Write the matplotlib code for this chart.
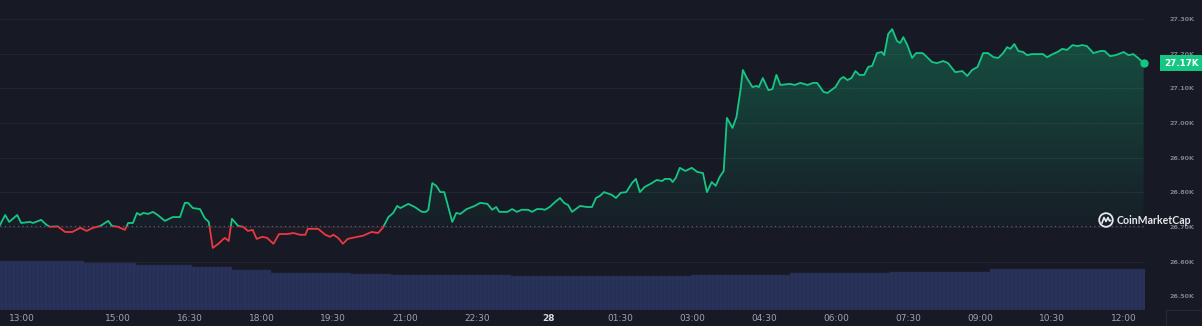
import numpy as np
import matplotlib
matplotlib.use("Agg")
import matplotlib.pyplot as plt
from matplotlib.path import Path
from matplotlib.patches import Rectangle, Circle
from matplotlib.lines import Line2D
import matplotlib.transforms as mtransforms

BG = "#171924"
GREEN = "#16c784"
RED = "#ea3943"

# minutes after 12:30 and price (USD)
minutes = [2, 9, 14, 24, 29, 40, 44, 54, 61, 65, 75, 84, 93, 103, 111, 119, 128, 138, 143, 150,
           159, 163, 169, 174, 178, 182, 188, 194, 200, 209, 219, 228, 234, 238, 244, 253,
           259, 264, 269, 276, 284, 289, 293, 301, 307, 313, 319, 324, 331, 337, 345, 352, 362,
           370, 378, 385, 388, 395, 401, 410, 416, 420, 426, 432, 438, 450, 457, 468, 476, 482,
           489, 495, 500, 504,
           514, 522, 531, 536, 539, 544, 549, 554, 559, 569, 574, 579, 587, 597, 604, 613, 619,
           624, 628, 638, 644, 650, 656, 664, 669, 675, 681, 685, 691, 698, 704, 709, 714, 719,
           729, 738, 744, 749, 754,
           759, 769, 774, 780, 787, 794, 799, 804, 810, 819, 825, 832, 835, 842, 845, 849, 854,
           861, 869, 876, 883, 888, 894, 899, 904, 909, 913, 920, 925, 930, 933, 938, 945, 950,
           953, 958, 965, 970, 975, 980, 992, 998, 1005, 1014, 1021, 1026, 1034, 1039, 1049,
           1055, 1059, 1064, 1069, 1074, 1079, 1085, 1090, 1095, 1101, 1107, 1110, 1115, 1120,
           1126, 1130, 1134, 1139, 1145, 1150, 1158, 1161, 1170, 1176,
           1184, 1190, 1199, 1208, 1214, 1220, 1227, 1234, 1240, 1247, 1253, 1259, 1264, 1268,
           1273, 1278, 1284, 1289, 1295, 1305, 1309, 1314, 1321, 1327, 1333, 1339, 1346, 1352,
           1358, 1364, 1372, 1381, 1386, 1393, 1400, 1410, 1416, 1422, 1428, 1435]
prices = [26704, 26735, 26715, 26735, 26712, 26715, 26712, 26721, 26706, 26701, 26702, 26686,
          26686, 26698, 26689, 26698, 26703, 26718, 26703, 26701, 26692, 26712, 26712, 26741,
          26735, 26741, 26738, 26744, 26735, 26718, 26729, 26729, 26770, 26770, 26755, 26752,
          26726, 26715, 26640, 26652, 26669, 26660, 26724, 26703, 26701, 26689, 26692, 26666,
          26672, 26669, 26652, 26680, 26680, 26683, 26678, 26678, 26695, 26695, 26695, 26678,
          26672, 26678, 26669, 26652, 26666, 26672, 26675, 26686, 26683, 26698, 26729, 26741,
          26761, 26755,
          26767, 26758, 26744, 26744, 26750, 26827, 26819, 26801, 26801, 26715, 26741, 26738,
          26752, 26761, 26770, 26767, 26750, 26758, 26744, 26744, 26752, 26744, 26750, 26750,
          26744, 26752, 26752, 26750, 26758, 26773, 26784, 26770, 26764, 26744, 26761, 26758,
          26758, 26784, 26790,
          26801, 26793, 26784, 26799, 26801, 26827, 26839, 26801, 26816, 26827, 26836, 26833,
          26839, 26839, 26830, 26842, 26871, 26862, 26871, 26859, 26856, 26801, 26830, 26819,
          26845, 26862, 27015, 26986, 27018, 27095, 27153, 27130, 27104, 27107, 27104, 27130,
          27095, 27098, 27139, 27110, 27113, 27110, 27116, 27110, 27116, 27116, 27090, 27087,
          27104, 27127, 27133, 27124, 27130, 27150, 27139, 27139, 27162, 27165, 27202, 27205,
          27196, 27257, 27271, 27237, 27231, 27248, 27225, 27188, 27202, 27202, 27196, 27176,
          27173,
          27179, 27173, 27147, 27150, 27136, 27153, 27162, 27202, 27202, 27190, 27188, 27202,
          27219, 27214, 27228, 27208, 27205, 27196, 27199, 27199, 27199, 27190, 27199, 27205,
          27214, 27211, 27225, 27222, 27225, 27222, 27202, 27208, 27208, 27193, 27196, 27205,
          27196, 27199, 27188, 27173]
base_price = 26704

# 24h volume (billion USD), 5 minute bars, run length encoded
vol_levels = [14.7, 14.25, 13.5, 13.05, 12.0, 11.25, 10.95, 10.65, 10.35, 10.65, 11.1, 11.55, 12.45]
vol_runs = [22, 13, 14, 10, 10, 20, 10, 30, 45, 25, 25, 25, 39]

xtick_minutes = [30, 150, 240, 330, 420, 510, 600, 690, 780, 870, 960, 1050, 1140, 1230, 1320, 1410]
xtick_labels = ["13:00", "15:00", "16:30", "18:00", "19:30", "21:00", "22:30", "28",
                "01:30", "03:00", "04:30", "06:00", "07:30", "09:00", "10:30", "12:00"]
ytick_prices = [26500, 26600, 26700, 26800, 26900, 27000, 27100, 27200, 27300]
ytick_labels = ["26.50K", "26.60K", "26.70K", "26.80K", "26.90K", "27.00K", "27.10K", "27.20K", "27.30K"]

W, H = 1202, 326
XMIN, XMAX = 2.5, 1436.7
YMIN, YMAX = 26461, 27355

t = np.array(minutes, dtype=float)
p = np.array(prices, dtype=float)

fig = plt.figure(figsize=(W / 100, H / 100), dpi=100, facecolor=BG)
rect = [0, 16 / H, 1145 / W, 310 / H]
ax_vol = fig.add_axes(rect)
ax = fig.add_axes(rect)

# volume panel (underneath)
ax_vol.set_facecolor(BG)
vol = np.repeat(vol_levels, vol_runs)
vol_t = np.arange(len(vol)) * 5
ax_vol.bar(vol_t, vol, width=5, color="#29335a", edgecolor="#222a4a", linewidth=0.35, zorder=2)
ax_vol.set_xlim(XMIN, XMAX)
ax_vol.set_ylim(0, 93)
ax_vol.axis("off")

# price grid lines, drawn under the bars
ax.set_ylim(YMIN, YMAX)
blend = mtransforms.blended_transform_factory(ax_vol.transAxes, ax.transData)
for yp in ytick_prices:
    ax_vol.add_line(Line2D([0, 1], [yp, yp], transform=blend, color="#222532", lw=0.8, zorder=0))

# price panel
ax.set_facecolor("none")
for s in ax.spines.values():
    s.set_visible(False)


def grad_fill(mask, color, a_low, a_high, y0, y1):
    poly = ax.fill_between(t, p, base_price, where=mask, interpolate=True,
                           facecolor="none", edgecolor="none")
    path = Path.make_compound_path(*poly.get_paths())
    img = np.zeros((200, 1, 4))
    img[..., :3] = matplotlib.colors.to_rgb(color)
    img[:, 0, 3] = np.linspace(a_low, a_high, 200)
    im = ax.imshow(img, extent=[XMIN, XMAX, y0, y1], origin="lower", aspect="auto",
                   interpolation="bilinear", zorder=1)
    im.set_clip_path(path, ax.transData)


grad_fill(p >= base_price, GREEN, 0.03, 0.36, base_price, YMAX)
grad_fill(p <= base_price, RED, 0.0, 0.04, YMIN, base_price)

ax.axhline(base_price, color="#5b5f6c", lw=0.9, ls=(0, (1, 2.5)), zorder=2)

ln_g, = ax.plot(t, p, color=GREEN, lw=1.3, zorder=3, solid_joinstyle="round")
ln_g.set_clip_path(Rectangle((XMIN, base_price), XMAX - XMIN, YMAX - base_price,
                             transform=ax.transData))
ln_r, = ax.plot(t, p, color=RED, lw=1.3, zorder=3, solid_joinstyle="round")
ln_r.set_clip_path(Rectangle((XMIN, YMIN), XMAX - XMIN, base_price - YMIN,
                             transform=ax.transData))
ax.plot(t[-1], p[-1], "o", color=GREEN, ms=5, zorder=4, clip_on=False)

ax.set_xlim(XMIN, XMAX)
ax.set_ylim(YMIN, YMAX)

ax.set_xticks(xtick_minutes)
ax.set_xticklabels(xtick_labels)
ax.tick_params(axis="x", length=0, pad=3, labelsize=6.5, labelcolor="#9ea3b3")
for lab in ax.get_xticklabels():
    if lab.get_text() == "28":
        lab.set_fontweight("bold")
        lab.set_color("#d4d7df")

ax.yaxis.tick_right()
ax.set_yticks(ytick_prices)
ax.set_yticklabels(ytick_labels)
ax.tick_params(axis="y", length=0, pad=18, labelsize=4.6, labelcolor="#7b8092")
for lab in ax.get_yticklabels():
    lab.set_fontweight("bold")

# current price tag
tag_tr = mtransforms.blended_transform_factory(ax.transAxes, ax.transData)
ax.text(1.0315, p[-1], f"{p[-1] / 1000:.2f}K", transform=tag_tr, ha="center", va="center",
        fontsize=6.3, fontweight="bold", color="white", clip_on=False, zorder=5,
        bbox=dict(boxstyle="square,pad=0.4", fc=GREEN, ec="none"))

# watermark logo
ident = mtransforms.IdentityTransform()
cx, cy = 1106, H - 220
fig.add_artist(Circle((cx, cy), 6.8, transform=ident, fill=False, ec="#e6e8ee", lw=1.3))
fig.add_artist(Line2D([cx - 4, cx - 2, cx, cx + 2, cx + 3.5, cx + 4.5],
                      [cy - 3, cy + 2.5, cy - 1.5, cy + 2.5, cy - 1, cy - 0.5],
                      transform=ident, color="#e6e8ee", lw=1.2))
fig.text(1117 / W, cy / H, "CoinMarketCap", ha="left", va="center", fontsize=7.6,
         fontweight="bold", family="Lato", color="#e6e8ee")

# bottom-right corner box
fig.add_artist(Line2D([1166, 1166], [0, 16], transform=ident, color="#262a37", lw=0.8))
fig.add_artist(Line2D([1166, 1202], [16, 16], transform=ident, color="#262a37", lw=0.8))

fig.savefig("out.png", dpi=100, facecolor=BG)
